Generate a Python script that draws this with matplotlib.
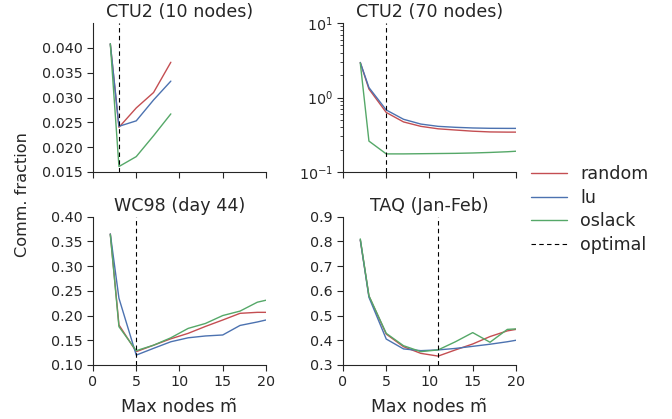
import numpy as np
import matplotlib
matplotlib.use("Agg")
import matplotlib.pyplot as plt
import seaborn as sns

sns.set_style("ticks")
plt.rcParams['font.family'] = ['DejaVu Sans']
plt.rcParams['text.color'] = '#262626'
plt.rcParams['axes.labelcolor'] = '#262626'
plt.rcParams['xtick.color'] = '#262626'
plt.rcParams['ytick.color'] = '#262626'

RED = '#C44E52'
BLUE = '#4C72B0'
GREEN = '#55A868'

# CTU2 (10 nodes)
x_ctu10 = [2, 3, 5, 7, 9]
ctu10_random = [0.0408, 0.0240, 0.0279, 0.0310, 0.0371]
ctu10_lu = [0.0408, 0.0242, 0.0253, 0.0295, 0.0333]
ctu10_oslack = [0.0408, 0.0161, 0.0181, 0.0223, 0.0267]
opt_ctu10 = 3

# shared x grid for the other datasets
x_grid = [2, 3, 5, 7, 9, 11, 13, 15, 17, 19, 20]

# CTU2 (70 nodes)
ctu70_random = [2.95, 1.30, 0.63, 0.47, 0.41, 0.38, 0.366, 0.353, 0.345, 0.343, 0.343]
ctu70_lu = [2.95, 1.36, 0.68, 0.51, 0.44, 0.41, 0.398, 0.39, 0.386, 0.385, 0.385]
ctu70_oslack = [2.9, 0.26, 0.175, 0.175, 0.176, 0.177, 0.178, 0.180, 0.183, 0.187, 0.19]
opt_ctu70 = 5

# WC98 (day 44)
wc_random = [0.365, 0.181, 0.127, 0.140, 0.153, 0.164, 0.178, 0.191, 0.2045, 0.2065, 0.2065]
wc_lu = [0.365, 0.235, 0.120, 0.1337, 0.147, 0.155, 0.1587, 0.1607, 0.180, 0.187, 0.191]
wc_oslack = [0.364, 0.1775, 0.129, 0.140, 0.155, 0.174, 0.184, 0.200, 0.209, 0.227, 0.231]
opt_wc = 5

# TAQ (Jan-Feb)
taq_random = [0.806, 0.579, 0.425, 0.374, 0.347, 0.336, 0.361, 0.385, 0.415, 0.438, 0.444]
taq_lu = [0.806, 0.574, 0.405, 0.365, 0.358, 0.361, 0.367, 0.3755, 0.384, 0.394, 0.400]
taq_oslack = [0.81, 0.58, 0.428, 0.378, 0.354, 0.361, 0.394, 0.431, 0.392, 0.444, 0.446]
opt_taq = 11

fig = plt.figure(figsize=(6.72, 4.19), dpi=100)
ax1 = fig.add_axes([0.1384, 0.5895, 0.2574, 0.3556])
ax2 = fig.add_axes([0.5104, 0.5895, 0.2574, 0.3556])
ax3 = fig.add_axes([0.1384, 0.1289, 0.2574, 0.354])
ax4 = fig.add_axes([0.5104, 0.1289, 0.2574, 0.354])

fs = 10.3

def draw(ax, x, r, l, o, opt, title):
    ax.plot(x, r, color=RED, lw=1, label='random')
    ax.plot(x, l, color=BLUE, lw=1, label='lu')
    ax.plot(x, o, color=GREEN, lw=1, label='oslack')
    ax.axvline(opt, color='black', ls=(0, (4, 3)), lw=0.8, label='optimal')
    ax.set_title(title, fontsize=12.6, pad=4)
    ax.set_xlim(0, 20)
    ax.set_xticks([0, 5, 10, 15, 20])
    ax.tick_params(labelsize=fs, length=4)
    sns.despine(ax=ax)

draw(ax1, x_ctu10, ctu10_random, ctu10_lu, ctu10_oslack, opt_ctu10, 'CTU2 (10 nodes)')
ax1.set_ylim(0.015, 0.045)
ax1.set_yticks([0.015, 0.020, 0.025, 0.030, 0.035, 0.040])
ax1.set_yticklabels(['0.015', '0.020', '0.025', '0.030', '0.035', '0.040'])
ax1.set_xticklabels([])

draw(ax2, x_grid, ctu70_random, ctu70_lu, ctu70_oslack, opt_ctu70, 'CTU2 (70 nodes)')
ax2.set_yscale('log')
ax2.set_ylim(0.1, 10)
ax2.set_xticklabels([])
ax2.tick_params(which='minor', length=2)

draw(ax3, x_grid, wc_random, wc_lu, wc_oslack, opt_wc, 'WC98 (day 44)')
ax3.set_ylim(0.10, 0.40)
ax3.set_yticks(np.arange(0.10, 0.401, 0.05))
ax3.set_yticklabels(['%.2f' % v for v in np.arange(0.10, 0.401, 0.05)])
ax3.set_xlabel('Max nodes m\u0303', fontsize=12.4, labelpad=6)

draw(ax4, x_grid, taq_random, taq_lu, taq_oslack, opt_taq, 'TAQ (Jan-Feb)')
ax4.set_ylim(0.3, 0.9)
ax4.set_yticks(np.arange(0.3, 0.901, 0.1))
ax4.set_yticklabels(['%.1f' % v for v in np.arange(0.3, 0.901, 0.1)])
ax4.set_xlabel('Max nodes m\u0303', fontsize=12.4, labelpad=6)

fig.text(0.034, 0.535, 'Comm. fraction', rotation=90, ha='center', va='center', fontsize=11.6)

handles, labels = ax3.get_legend_handles_labels()
fig.legend(handles, labels, loc='center left', bbox_to_anchor=(0.790, 0.500),
           frameon=False, fontsize=12.6, handlelength=2.06, handletextpad=0.74,
           labelspacing=0.32, borderpad=0, borderaxespad=0)

fig.savefig('out.png', dpi=100)
